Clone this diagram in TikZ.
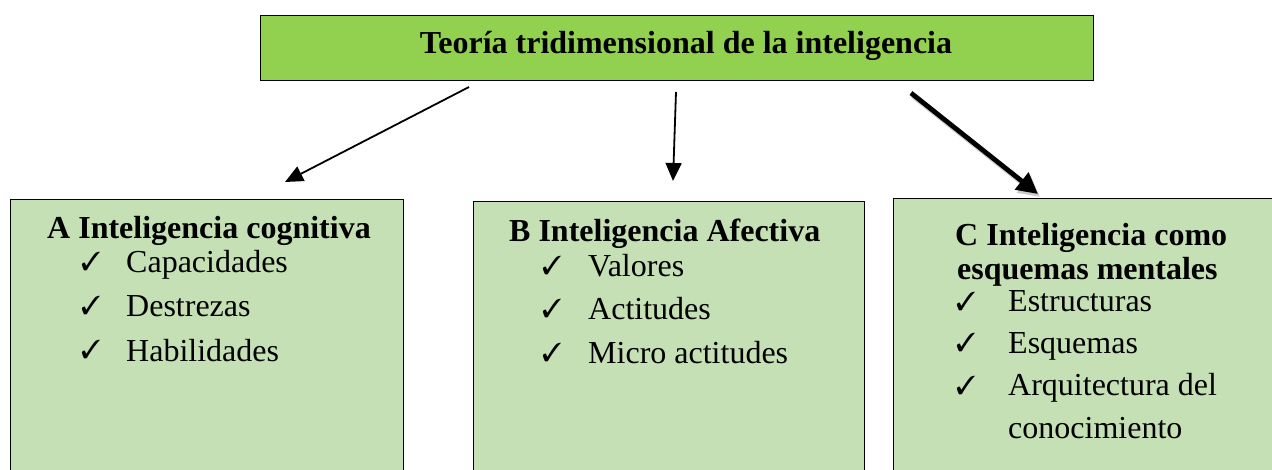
\documentclass[tikz,border=0pt]{standalone}
\usepackage{fontspec}
\setmainfont{Liberation Serif}
\usepackage{pifont}
\usetikzlibrary{arrows.meta}
\definecolor{topgreen}{HTML}{92D050}
\definecolor{boxgreen}{HTML}{C5E0B4}
\begin{document}
\begin{tikzpicture}[x=1pt,y=-1pt,
  topbox/.style={draw=black, fill=topgreen, line width=1.2pt, inner sep=0,
    minimum width=833pt, minimum height=65pt, anchor=north west},
  subbox/.style={draw=black, fill=boxgreen, line width=1.2pt, anchor=north west, inner sep=0},
  head/.style={anchor=base west, inner sep=0, font=\bfseries\fontsize{32}{38}\selectfont},
  item/.style={anchor=base west, inner sep=0, font=\fontsize{32}{38}\selectfont},
  tick/.style={anchor=base west, inner sep=0, font=\fontsize{26}{28}\selectfont},
  conn/.style={line width=1.8pt, -{Triangle[length=18pt,width=16pt]}},
  connbold/.style={line width=4.8pt, -{Triangle[length=21pt,width=21pt]}},
  shadow/.style={line width=5pt, draw=black!40, opacity=0.5, -{Triangle[length=21pt,width=21pt]}}
]
\useasboundingbox (0,0) rectangle (1272,470);
\clip (0,0) rectangle (1272,470);

% top box
\node[topbox] (top) at (260,15) {};
\node[head, anchor=base] (toptext) at (686,54) {Teoría tridimensional de la inteligencia};

% sub boxes
\node[subbox, minimum width=393pt, minimum height=290pt] (A) at (10,199) {};
\node[subbox, minimum width=391pt, minimum height=290pt] (B) at (473,201) {};
\node[subbox, minimum width=400pt, minimum height=290pt] (C) at (893,198) {};

% box A text
\node[head] (Ah) at (47,239) {A Inteligencia cognitiva};
\node[tick] (At1) at (81,271) {\ding{51}};
\node[item] (Ai1) at (126,273) {Capacidades};
\node[tick] (At2) at (81,315) {\ding{51}};
\node[item] (Ai2) at (126,317) {Destrezas};
\node[tick] (At3) at (81,359) {\ding{51}};
\node[item] (Ai3) at (126,361) {Habilidades};

% box B text
\node[head] (Bh) at (509,242) {B Inteligencia Afectiva};
\node[tick] (Bt1) at (542,275) {\ding{51}};
\node[item] (Bi1) at (588,277) {Valores};
\node[tick] (Bt2) at (542,318) {\ding{51}};
\node[item] (Bi2) at (588,320) {Actitudes};
\node[tick] (Bt3) at (542,361) {\ding{51}};
\node[item] (Bi3) at (588,363) {Micro actitudes};

% box C text
\node[head] (Ch1) at (955,246) {C Inteligencia como};
\node[head] (Ch2) at (957,280) {esquemas mentales};
\node[tick] (Ct1) at (956,311) {\ding{51}};
\node[item] (Ci1) at (1008,312) {Estructuras};
\node[tick] (Ct2) at (956,352) {\ding{51}};
\node[item] (Ci2) at (1008,353) {Esquemas};
\node[tick] (Ct3) at (956,394) {\ding{51}};
\node[item] (Ci3) at (1008,395) {Arquitectura del};
\node[item] (Ci4) at (1008,438) {conocimiento};

% connectors
\coordinate (s1) at (469,87);
\coordinate (e1) at (285,182);
\coordinate (s2) at (676,92);
\coordinate (e2) at (673,181);
\coordinate (s3) at (911,93);
\coordinate (e3) at (1038,194);
\coordinate (s3s) at (913,96);
\coordinate (e3s) at (1040,197);
\draw[conn] (s1) -- (e1);
\draw[conn] (s2) -- (e2);
\draw[shadow] (s3s) -- (e3s);
\draw[connbold] (s3) -- (e3);
\end{tikzpicture}
\end{document}
